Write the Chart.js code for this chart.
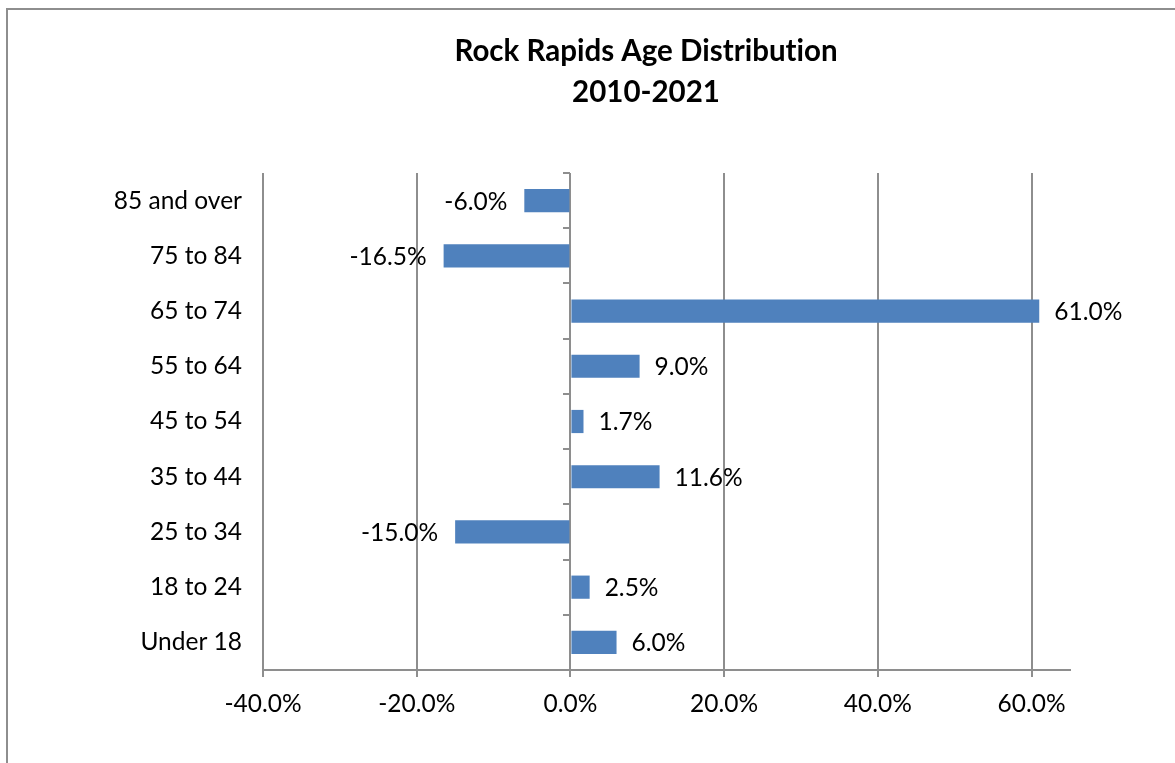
<!DOCTYPE html>
<html>
<head>
<meta charset="utf-8">
<script src="https://cdn.jsdelivr.net/npm/chart.js@4/dist/chart.umd.min.js"></script>
<style>
  html, body { margin: 0; padding: 0; background: #ffffff; overflow: hidden; width: 1175px; height: 763px; }
  #frame { position: absolute; left: 6px; top: 8px; border-left: 2px solid #8e8e8e; border-top: 2px solid #8e8e8e; }
  canvas { display: block; }
</style>
</head>
<body>
<div id="frame"><canvas id="chart" width="1290" height="800"></canvas></div>
<script>
// Age groups, youngest first (drawn bottom to top)
const categories = ['Under 18', '18 to 24', '25 to 34', '35 to 44', '45 to 54', '55 to 64', '65 to 74', '75 to 84', '85 and over'];
// Percent change in population, 2010-2021
const changePct = [6.0, 2.5, -15.0, 11.6, 1.7, 9.0, 61.0, -16.5, -6.0];
// Value-axis tick marks and range
const xTickValues = [-40, -20, 0, 20, 40, 60];
const xMin = -40, xMax = 65;
const titleLines = ['Rock Rapids Age Distribution', '2010-2021'];

const FONT = 'Lato, "Open Sans", sans-serif';
const GRID = '#8e8e8e';

const fmtPct = v => v.toFixed(1) + '%';

// Centered two-line title
const titlePlugin = {
  id: 'twoLineTitle',
  afterDraw(chart) {
    const ctx = chart.ctx;
    ctx.save();
    ctx.fillStyle = '#000000';
    ctx.font = 'bold 29.5px ' + FONT;
    if ('textRendering' in ctx) ctx.textRendering = 'optimizeSpeed';
    ctx.textAlign = 'center';
    ctx.textBaseline = 'middle';
    titleLines.forEach((t, i) => ctx.fillText(t, 638, 41 + i * 41));
    ctx.restore();
  }
};

// Value labels beside each bar end
const valueLabels = {
  id: 'valueLabels',
  afterDatasetsDraw(chart) {
    const ctx = chart.ctx;
    const meta = chart.getDatasetMeta(0);
    const data = chart.data.datasets[0].data;
    ctx.save();
    ctx.fillStyle = '#000000';
    ctx.font = '24.5px ' + FONT;
    ctx.textBaseline = 'middle';
    meta.data.forEach((bar, i) => {
      const v = data[i];
      if (v >= 0) {
        ctx.textAlign = 'left';
        ctx.fillText(fmtPct(v), bar.x + 15, bar.y + 1);
      } else {
        ctx.textAlign = 'right';
        ctx.fillText(fmtPct(v), bar.x - 17, bar.y + 1);
      }
    });
    ctx.restore();
  }
};

new Chart(document.getElementById('chart'), {
  type: 'bar',
  data: {
    labels: categories,
    datasets: [{
      data: changePct,
      backgroundColor: '#4f81bd',
      borderWidth: 0,
      barPercentage: 0.42,
      categoryPercentage: 1.0,
      yAxisID: 'y'
    }]
  },
  options: {
    indexAxis: 'y',
    responsive: false,
    animation: false,
    layout: { padding: { top: 163, right: 228, left: 0, bottom: 0 } },
    plugins: {
      legend: { display: false },
      title: { display: false },
      tooltip: { enabled: false }
    },
    scales: {
      x: {
        type: 'linear',
        min: xMin,
        max: xMax,
        ticks: {
          color: '#000000',
          font: { family: FONT, size: 24.5 },
          padding: 12,
          callback: v => fmtPct(v)
        },
        afterBuildTicks: scale => {
          scale.ticks = xTickValues.map(v => ({ value: v }));
        },
        afterFit: scale => { scale.height = 140; },
        grid: { color: GRID, lineWidth: 2, tickLength: 7, drawTicks: true },
        border: { display: true, color: GRID, width: 2 }
      },
      y: {
        type: 'category',
        position: 'left',
        reverse: true,
        offset: true,
        ticks: {
          color: '#000000',
          font: { family: FONT, size: 24.5 },
          padding: 21
        },
        afterFit: scale => { scale.width = 255; },
        grid: { display: false, drawTicks: false },
        border: { display: false }
      },
      yTicks: {
        type: 'category',
        position: { x: 0 },
        reverse: true,
        offset: true,
        ticks: { display: false },
        afterFit: scale => { scale.width = 0; },
        grid: { offset: true, drawOnChartArea: false, drawTicks: true, tickLength: 7, color: GRID, lineWidth: 2 },
        border: { display: false }
      }
    }
  },
  plugins: [titlePlugin, valueLabels]
});
</script>
</body>
</html>
